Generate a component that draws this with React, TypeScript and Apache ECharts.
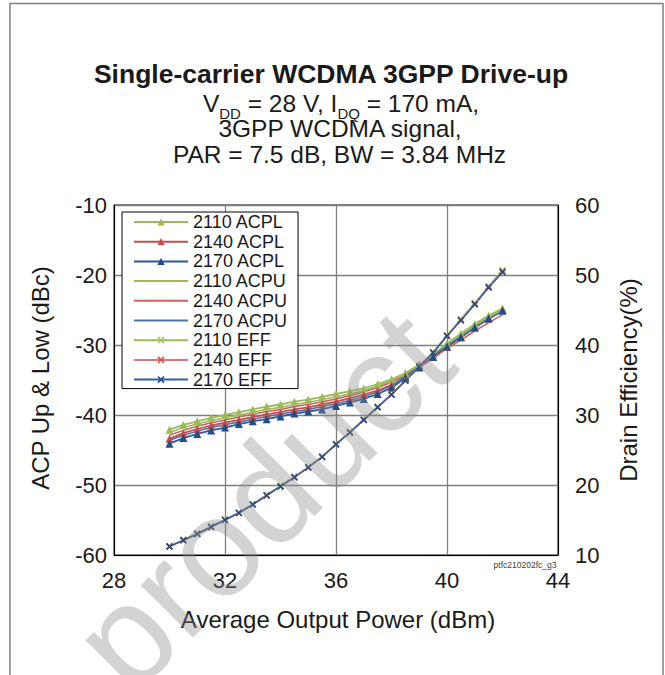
import React, { useEffect, useRef } from 'react';
import * as echarts from 'echarts';

const outputPower = [30, 30.5, 31, 31.5, 32, 32.5, 33, 33.5, 34, 34.5, 35, 35.5, 36, 36.5, 37, 37.5, 38, 38.5, 39, 39.5, 40, 40.5, 41, 41.5, 42];

const acpl2110 = [-42.1, -41.4, -40.9, -40.4, -40.0, -39.6, -39.2, -38.8, -38.5, -38.1, -37.8, -37.4, -37.0, -36.6, -36.2, -35.6, -34.9, -34.0, -32.8, -31.3, -29.8, -28.4, -27.0, -25.8, -24.8];
const acpl2140 = [-43.4, -42.6, -42.0, -41.5, -41.1, -40.7, -40.3, -39.9, -39.6, -39.2, -38.9, -38.5, -38.1, -37.6, -37.1, -36.5, -35.7, -34.5, -33.1, -31.7, -30.3, -28.9, -27.5, -26.2, -25.0];
const acpl2170 = [-44.1, -43.3, -42.7, -42.2, -41.8, -41.3, -40.9, -40.6, -40.2, -39.8, -39.5, -39.2, -38.7, -38.2, -37.7, -37.0, -36.1, -34.7, -33.2, -31.7, -30.2, -28.9, -27.5, -26.2, -25.1];
const acpu2110 = [-42.5, -41.8, -41.3, -40.8, -40.4, -40.0, -39.6, -39.2, -38.9, -38.5, -38.2, -37.8, -37.4, -37.0, -36.5, -35.9, -35.1, -34.2, -33.0, -31.5, -30.0, -28.6, -27.2, -26.0, -25.0];
const acpu2140 = [-42.9, -42.2, -41.6, -41.1, -40.7, -40.3, -39.9, -39.5, -39.2, -38.8, -38.5, -38.1, -37.7, -37.2, -36.7, -36.1, -35.3, -34.3, -33.2, -31.9, -30.5, -29.3, -28.0, -26.8, -25.7];
const acpu2170 = [-43.6, -42.9, -42.3, -41.8, -41.4, -41.0, -40.6, -40.2, -39.9, -39.5, -39.2, -38.8, -38.4, -37.9, -37.4, -36.7, -35.8, -34.5, -33.0, -31.5, -30.1, -28.8, -27.5, -26.3, -25.2];
const eff2110 = [11.3, 12.2, 13.1, 14.1, 15.1, 16.1, 17.3, 18.6, 19.9, 21.2, 22.6, 24.1, 25.9, 27.6, 29.4, 31.2, 33.0, 35.0, 37.0, 39.0, 41.4, 43.7, 46.0, 48.4, 50.7];
const eff2140 = [11.2, 12.1, 13.0, 14.0, 15.0, 16.0, 17.2, 18.5, 19.8, 21.1, 22.5, 24.0, 25.8, 27.5, 29.3, 31.1, 32.9, 34.9, 36.9, 38.9, 41.3, 43.6, 45.9, 48.3, 50.5];
const eff2170 = [11.2, 12.1, 13.0, 14.0, 15.0, 16.0, 17.2, 18.5, 19.8, 21.1, 22.5, 24.0, 25.8, 27.5, 29.3, 31.1, 32.9, 34.9, 36.9, 38.9, 41.3, 43.5, 45.8, 48.2, 50.4];

const xTicks = { min: 28, max: 44, interval: 4 };
const leftTicks = { min: -60, max: -10, interval: 10 };
const rightTicks = { min: 10, max: 60, interval: 10 };

const X_SYMBOL = 'path://M0,1.6 L1.6,0 L5,3.4 L8.4,0 L10,1.6 L6.6,5 L10,8.4 L8.4,10 L5,6.6 L1.6,10 L0,8.4 L3.4,5 Z';
const FONT = 'Arial, "Liberation Sans", Helvetica, sans-serif';
const TXT = '#1a1a1a';

export default function App() {
  const ref = useRef<HTMLDivElement>(null);
  useEffect(() => {
    const chart = echarts.init(ref.current!, null, { renderer: 'svg' });
    const mk = (name: string, vals: number[], color: string, symbol: string, size: number, width: number, yIdx: number, symColor?: string) => ({
      type: 'line',
      name,
      yAxisIndex: yIdx,
      data: outputPower.map((x, i) => [x, vals[i]]),
      symbol,
      symbolSize: size,
      showSymbol: symbol !== 'none',
      lineStyle: { color, width },
      itemStyle: { color: symColor || color },
      emphasis: { disabled: true },
    });
    const series = [
      mk('2110 ACPL', acpl2110, '#9BBB59', 'triangle', 8, 1.8, 0),
      mk('2140 ACPL', acpl2140, '#C0504D', 'triangle', 8, 1.8, 0),
      mk('2170 ACPL', acpl2170, '#2A5A9A', 'triangle', 8, 1.8, 0, '#1F4E8C'),
      mk('2110 ACPU', acpu2110, '#9BBB59', 'none', 0, 1.5, 0),
      mk('2140 ACPU', acpu2140, '#D0605C', 'none', 0, 1.5, 0),
      mk('2170 ACPU', acpu2170, '#4A74AA', 'none', 0, 1.5, 0),
      mk('2110 EFF', eff2110, '#9BBB59', X_SYMBOL, 7, 1.5, 1, '#A6C860'),
      mk('2140 EFF', eff2140, '#D97A78', X_SYMBOL, 7, 1.5, 1, '#D0504D'),
      mk('2170 EFF', eff2170, '#2F5F9F', X_SYMBOL, 7, 1.5, 1, '#1F4E8C'),
    ];
    const legendData = series.map((s) =>
      s.symbol === 'none' ? { name: s.name, itemStyle: { opacity: 0 } } : { name: s.name }
    );
    const option: any = {
      animation: false,
      backgroundColor: '#ffffff',
      textStyle: { fontFamily: FONT },
      grid: { left: 114, top: 205, right: 107, bottom: 120, show: true, borderColor: '#000', borderWidth: 1, backgroundColor: 'transparent' },
      xAxis: {
        type: 'value', min: xTicks.min, max: xTicks.max, interval: xTicks.interval,
        axisLine: { show: true, lineStyle: { color: '#000', width: 1 } },
        axisTick: { show: false },
        splitLine: { show: true, lineStyle: { color: '#7f7f7f', width: 1.3 } },
        axisLabel: { fontSize: 22, color: TXT, margin: 14, fontFamily: FONT },
      },
      yAxis: [
        {
          type: 'value', position: 'left', min: leftTicks.min, max: leftTicks.max, interval: leftTicks.interval,
          axisLine: { show: true, lineStyle: { color: '#000', width: 1 } },
          axisTick: { show: false },
          splitLine: { show: true, lineStyle: { color: '#7f7f7f', width: 1.3 } },
          axisLabel: { fontSize: 22, color: TXT, margin: 7, fontFamily: FONT },
        },
        {
          type: 'value', position: 'right', min: rightTicks.min, max: rightTicks.max, interval: rightTicks.interval,
          axisLine: { show: true, lineStyle: { color: '#000', width: 1 } },
          axisTick: { show: false },
          splitLine: { show: false },
          axisLabel: { fontSize: 22, color: TXT, margin: 17, fontFamily: FONT },
        },
      ],
      legend: {
        orient: 'vertical', left: 122, top: 212,
        backgroundColor: '#fff', borderColor: '#000', borderWidth: 1,
        padding: [1, 10, 0, 11],
        itemWidth: 54, itemHeight: 9, itemGap: 1.7,
        selectedMode: false,
        textStyle: { fontSize: 18, lineHeight: 18, color: TXT, fontFamily: FONT, padding: [0, 0, 0, 0] },
        data: legendData,
      },
      graphic: [
        { type: 'rect', z: 200, silent: true, shape: { x: 10, y: 3.5, width: 653, height: 700 }, style: { fill: 'none', stroke: '#808080', lineWidth: 1.5 } },
        { type: 'text', z: 100, x: 331, y: 74, style: { text: 'Single-carrier WCDMA 3GPP Drive-up', font: `bold 26.5px ${FONT}`, fill: TXT, align: 'center', verticalAlign: 'middle' } },
        {
          type: 'text', z: 100, x: 341, y: 90.8,
          style: {
            text: '{n|V}{s|DD}{n| = 28 V, I}{s|DQ}{n| = 170 mA,}',
            align: 'center', verticalAlign: 'top',
            rich: {
              n: { fontSize: 24.5, lineHeight: 24.5, fontFamily: FONT, fill: TXT, verticalAlign: 'top' },
              s: { fontSize: 15, lineHeight: 13, fontFamily: FONT, fill: TXT, verticalAlign: 'top', padding: [15.7, 0, 0, 0] },
            },
          },
        },
        { type: 'text', z: 100, x: 340, y: 128.7, style: { text: '3GPP WCDMA signal,', font: `24.5px ${FONT}`, lineHeight: 16, fill: TXT, align: 'center', verticalAlign: 'middle' } },
        { type: 'text', z: 100, x: 339.5, y: 154.1, style: { text: 'PAR = 7.5 dB, BW = 3.84 MHz', font: `24.5px ${FONT}`, lineHeight: 20, fill: TXT, align: 'center', verticalAlign: 'middle' } },
        { type: 'text', z: 100, x: 338, y: 619, style: { text: 'Average Output Power (dBm)', font: `24px ${FONT}`, fill: TXT, align: 'center', verticalAlign: 'middle' } },
        { type: 'text', z: 100, x: 40, y: 378, rotation: Math.PI / 2, style: { text: 'ACP Up & Low (dBc)', font: `24px ${FONT}`, fill: TXT, align: 'center', verticalAlign: 'middle' } },
        { type: 'text', z: 100, x: 628, y: 380, rotation: Math.PI / 2, style: { text: 'Drain Efficiency(%)', font: `24px ${FONT}`, fill: TXT, align: 'center', verticalAlign: 'middle' } },
        { type: 'text', z: 100, x: 525, y: 565, style: { text: 'ptfc210202fc_g3', font: `8.5px ${FONT}`, fill: '#404040', align: 'center', verticalAlign: 'middle' } },
        { type: 'text', z: 150, silent: true, x: 262, y: 500, rotation: Math.PI / 4, style: { text: 'product', font: `140px ${FONT}`, fill: 'rgba(140,140,140,0.38)', align: 'center', verticalAlign: 'middle' } },
      ],
      series,
    };
    chart.setOption(option);
    return () => chart.dispose();
  }, []);
  return <div ref={ref} style={{ position: 'absolute', left: 0, top: 0, width: 665, height: 675 }} />;
}
